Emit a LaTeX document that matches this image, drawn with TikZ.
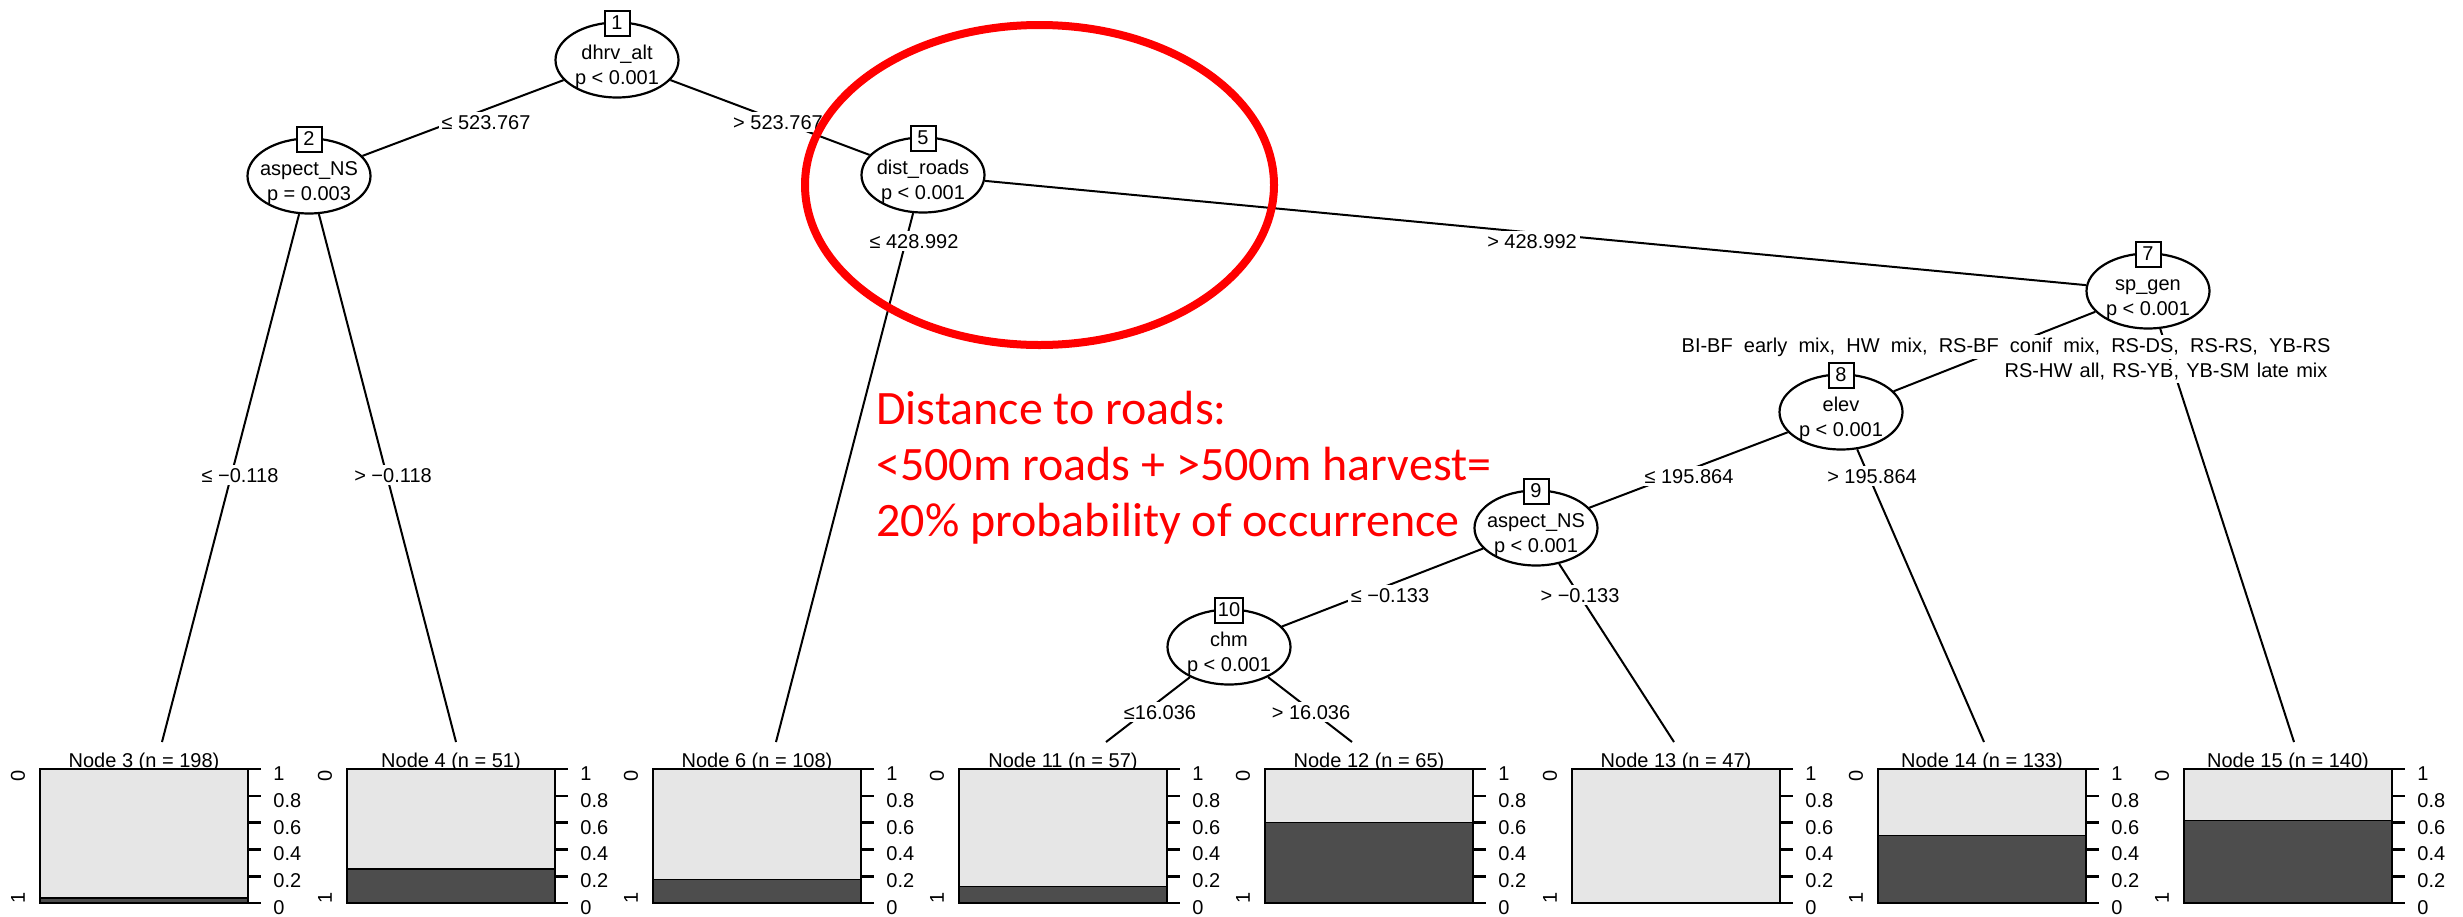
\documentclass[tikz,border=0pt]{standalone}
\usepackage{fontspec}
\setmainfont{Liberation Sans}
\newfontfamily\notefont{Carlito}
\usetikzlibrary{shapes.geometric}
\pgfdeclarelayer{background}
\pgfsetlayers{background,main}
\definecolor{barlight}{HTML}{E6E6E6}
\definecolor{bardark}{HTML}{4D4D4D}
\definecolor{notered}{HTML}{FF0000}

% inner split: ellipse, variable name, p-value and numbered box
\newcommand\splitnode[6]{%
  \node[split] (#1) at (#2,#3) {};
  \node[nodetext] (#1var) at (#2,#3-1) {#5};
  \node[nodetext] (#1p) at (#2,#3+24) {#6};
  \node[idbox] (#1id) at (#2,#3-37) {#4};
}

% terminal node: stacked bar of the two classes with its axes
\newcommand\leafpanel[5]{%
  \coordinate (t#1) at (#5,742);
  \node[leaftitle] (title#1) at (#3+104,767) {Node #1 (n = #2)};
  \fill[barlight] (#3,769) rectangle (#3+208,903);
  \fill[bardark] (#3,903) rectangle (#3+208,{903-134*#4});
  \draw[divider] (#3,{903-134*#4}) -- (#3+208,{903-134*#4});
  \draw[frame] (#3,769) rectangle (#3+208,903);
  \foreach \v [count=\k] in {0,0.2,0.4,0.6,0.8,1}{
    \draw[frame] (#3+208,{903-134*\v}) -- ++(13,0);
    \node[axislab] (ax#1k\k) at (#3+233,{903-134*\v+11.5}) {\v};
  }
  \node[sidelab] (lv#1a) at (#3-22,776) {0};
  \node[sidelab] (lv#1b) at (#3-22,898) {1};
}

\begin{document}
\begin{tikzpicture}[x=0.5pt,y=-0.5pt,
  font=\fontsize{10}{12}\selectfont,
  split/.style={ellipse, draw, line width=1.1pt, fill=white,
    minimum width=61.5pt, minimum height=37.5pt, inner sep=0pt},
  nodetext/.style={anchor=base, inner sep=0pt},
  idbox/.style={draw, line width=1pt, fill=white, minimum size=12.5pt,
    inner sep=1.5pt},
  edge/.style={line width=1pt},
  elabel/.style={anchor=base, fill=white, inner sep=1.5pt},
  leaftitle/.style={anchor=base, inner sep=0pt},
  frame/.style={line width=1.3pt},
  divider/.style={line width=0.6pt},
  axislab/.style={anchor=base west, inner sep=0pt},
  sidelab/.style={rotate=90, inner sep=0pt},
  notetext/.style={anchor=base west, inner sep=0pt, text=notered,
    font=\notefont\fontsize{24}{28}\selectfont},
]
\useasboundingbox (0,0) rectangle (2463,916);

% inner nodes
\splitnode{n1}{617}{60}{1}{dhrv\_alt}{p < 0.001}
\splitnode{n2}{309}{176}{2}{aspect\_NS}{p = 0.003}
\splitnode{n5}{923}{175}{5}{dist\_roads}{p < 0.001}
\splitnode{n7}{2148}{291}{7}{sp\_gen}{p < 0.001}
\splitnode{n8}{1841}{412}{8}{elev}{p < 0.001}
\splitnode{n9}{1536}{528}{9}{aspect\_NS}{p < 0.001}
\splitnode{n10}{1229}{647}{10}{chm}{p < 0.001}

% terminal nodes
\leafpanel{3}{198}{40}{0.037}{162}
\leafpanel{4}{51}{347}{0.254}{456}
\leafpanel{6}{108}{653}{0.174}{776}
\leafpanel{11}{57}{959}{0.124}{1106}
\leafpanel{12}{65}{1265}{0.602}{1352}
\leafpanel{13}{47}{1572}{0}{1674}
\leafpanel{14}{133}{1878}{0.502}{1984}
\leafpanel{15}{140}{2184}{0.617}{2294}

% branches
\begin{pgfonlayer}{background}
  \foreach \a/\b in {n1/n2, n1/n5, n2/t3, n2/t4, n5/t6, n5/n7, n7/n8, n7/t15,
                     n8/n9, n8/t14, n9/n10, n9/t13, n10/t11, n10/t12}
    \draw[edge] (\a) -- (\b);
\end{pgfonlayer}

% split labels
\node[elabel] (l1a) at (486,129) {≤ 523.767};
\node[elabel] (l1b) at (778,129) {> 523.767};
\node[elabel] (l2a) at (240,482) {≤ −0.118};
\node[elabel] (l2b) at (393,482) {> −0.118};
\node[elabel] (l5a) at (914,248) {≤ 428.992};
\node[elabel] (l5b) at (1532,248) {> 428.992};
\node[elabel] (l7b) at (2166,377) {\spaceskip=3.6pt RS-HW all, RS-YB, YB-SM late mix};
\node[elabel] (l7a) at (2006,352) {\spaceskip=5.6pt BI-BF early mix, HW mix, RS-BF conif mix, RS-DS, RS-RS, YB-RS};
\node[elabel] (l8a) at (1689,483) {≤ 195.864};
\node[elabel] (l8b) at (1872,483) {> 195.864};
\node[elabel] (l9a) at (1390,602) {≤ −0.133};
\node[elabel] (l9b) at (1580,602) {> −0.133};
\node[elabel] (l10a) at (1160,719) {≤16.036};
\node[elabel] (l10b) at (1311,719) {> 16.036};

% highlighted split and note
\node[ellipse, draw=notered, line width=4pt, minimum width=234.5pt,
      minimum height=160pt, inner sep=0pt] (callout) at (1039.5,185) {};
\node[notetext] (note1) at (876,424) {Distance to roads:};
\node[notetext] (note2) at (876,480) {<500m roads + >500m harvest=};
\node[notetext] (note3) at (876,536) {20\% probability of occurrence};
\end{tikzpicture}
\end{document}
